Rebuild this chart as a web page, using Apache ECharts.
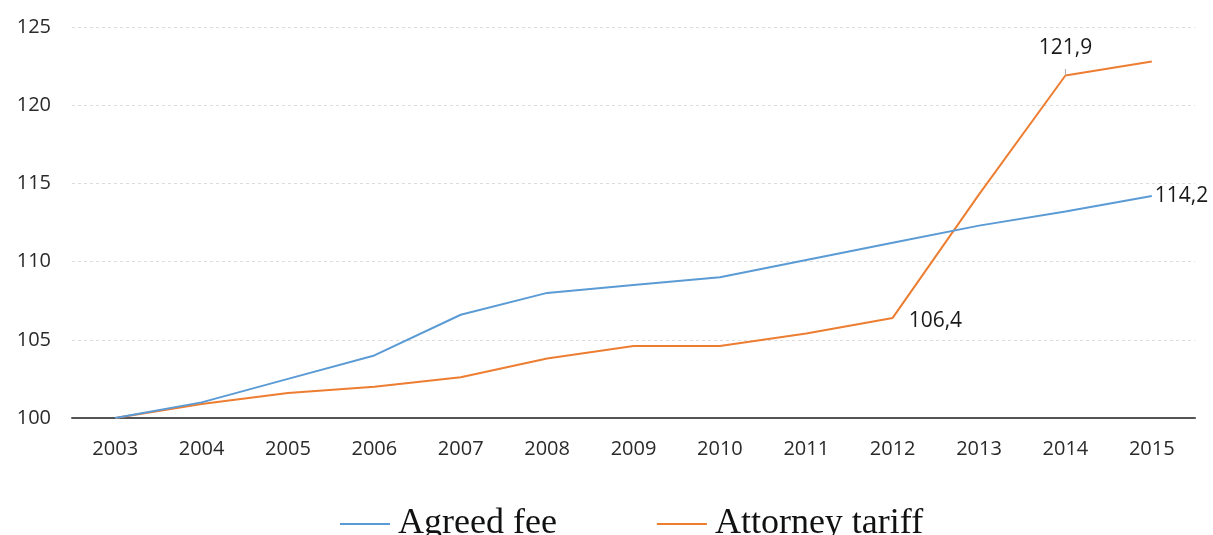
<!DOCTYPE html>
<html>
<head>
<meta charset="utf-8">
<script src="https://cdn.jsdelivr.net/npm/echarts@6/dist/echarts.min.js"></script>
<style>
  html, body { margin: 0; padding: 0; background: #fff; }
  #chart { width: 1213px; height: 535px; }
</style>
</head>
<body>
<div id="chart"></div>
<script>
// Index values, 2003 = 100
const years = ['2003','2004','2005','2006','2007','2008','2009','2010','2011','2012','2013','2014','2015'];
const agreedFee = [100, 101.0, 102.5, 104.0, 106.6, 108.0, 108.5, 109.0, 110.1, 111.2, 112.3, 113.2, 114.2];
const attorneyTariff = [100, 100.9, 101.6, 102.0, 102.6, 103.8, 104.6, 104.6, 105.4, 106.4, 114.3, 121.9, 122.8];
const seriesNames = ['Agreed fee', 'Attorney tariff'];
const yTicks = { min: 100, max: 125, interval: 5 };

const fmt = v => String(v).replace('.', ',');
const axisFont = { fontFamily: 'Open Sans, Lato, sans-serif', fontSize: 20, color: '#2a2a2a' };
const valueFont = { fontFamily: 'Open Sans, Lato, sans-serif', fontSize: 21, color: '#1a1a1a' };

const chart = echarts.init(document.getElementById('chart'), null, { renderer: 'canvas' });

chart.setOption({
  animation: false,
  grid: { left: 72, right: 18, top: 27, bottom: 117, containLabel: false },
  legend: {
    top: 501,
    left: 335,
    itemGap: 100,
    itemWidth: 50,
    itemHeight: 2,
    icon: 'rect',
    textStyle: { fontFamily: 'Liberation Serif, Times New Roman, serif', fontSize: 36, color: '#111', padding: [0, 0, 0, 3] },
    data: seriesNames
  },
  xAxis: {
    type: 'category',
    data: years,
    boundaryGap: true,
    axisLine: { lineStyle: { color: '#555', width: 2 } },
    axisTick: { show: false },
    axisLabel: Object.assign({ margin: 21 }, axisFont)
  },
  yAxis: {
    type: 'value',
    min: yTicks.min,
    max: yTicks.max,
    interval: yTicks.interval,
    axisLine: { show: false },
    axisTick: { show: false },
    splitLine: { lineStyle: { color: '#dcdcdc', type: [3, 3], width: 1 } },
    axisLabel: Object.assign({ margin: 21 }, axisFont)
  },
  series: [
    {
      name: seriesNames[0],
      type: 'line',
      data: agreedFee.map((v, i) => i === agreedFee.length - 1
        ? { value: v, label: { show: true, position: 'right', distance: 3, formatter: p => fmt(p.value) } }
        : v),
      symbol: 'circle',
      symbolSize: 0,
      showSymbol: true,
      color: '#5B9BD5',
      lineStyle: { width: 2, color: '#5B9BD5' },
      label: Object.assign({ show: false }, valueFont),
      z: 3
    },
    {
      name: seriesNames[1],
      type: 'line',
      data: attorneyTariff.map((v, i) => {
        if (i === 9) return { value: v, label: { show: true, position: 'right', distance: 16, offset: [0, 3], formatter: p => fmt(p.value) } };
        if (i === 11) return {
          value: v,
          label: { show: true, position: 'top', distance: 17, formatter: p => fmt(p.value) },
          labelLine: { show: true }
        };
        return v;
      }),
      symbol: 'circle',
      symbolSize: 0,
      showSymbol: true,
      color: '#ED7D31',
      lineStyle: { width: 2, color: '#ED7D31' },
      label: Object.assign({ show: false }, valueFont),
      labelLine: { show: false, lineStyle: { color: '#aaa', width: 1 } },
      z: 2
    }
  ]
});
</script>
</body>
</html>
